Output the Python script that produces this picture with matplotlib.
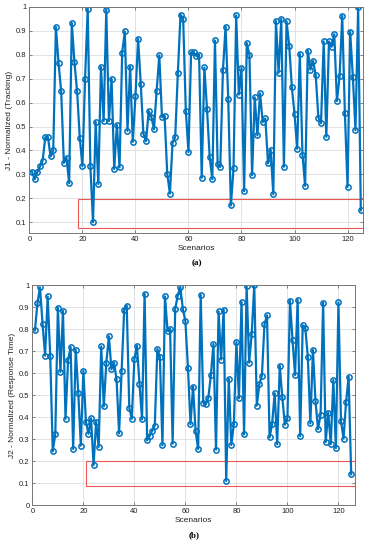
import numpy as np
import matplotlib.pyplot as plt
from matplotlib.patches import Rectangle

# J1 - normalized tracking, scenarios 1..125
j1 = [0.31, 0.28, 0.31, 0.333, 0.358, 0.455, 0.455, 0.375, 0.40, 0.916,
      0.766, 0.647, 0.348, 0.37, 0.263, 0.933, 0.768, 0.647, 0.454, 0.334,
      0.70, 0.993, 0.337, 0.10, 0.519, 0.26, 0.749, 0.523, 0.989, 0.523,
      0.699, 0.323, 0.507, 0.33, 0.809, 0.898, 0.482, 0.75, 0.436, 0.626,
      0.867, 0.68, 0.47, 0.439, 0.565, 0.541, 0.489, 0.65, 0.798, 0.541,
      0.545, 0.302, 0.22, 0.433, 0.456, 0.725, 0.968, 0.95, 0.567, 0.393,
      0.81, 0.81, 0.795, 0.80, 0.286, 0.747, 0.573, 0.372, 0.28, 0.86,
      0.342, 0.332, 0.735, 0.918, 0.615, 0.17, 0.325, 0.965, 0.634, 0.746,
      0.23, 0.849, 0.80, 0.297, 0.622, 0.463, 0.639, 0.519, 0.534, 0.346,
      0.404, 0.217, 0.941, 0.725, 0.951, 0.332, 0.94, 0.838, 0.664, 0.553,
      0.407, 0.805, 0.383, 0.252, 0.817, 0.738, 0.775, 0.715, 0.537, 0.514,
      0.856, 0.457, 0.856, 0.834, 0.886, 0.607, 0.71, 0.964, 0.556, 0.248,
      0.897, 0.708, 0.485, 1.0, 0.15]

# J2 - normalized response time
j2 = [0.794, 0.918, 0.989, 0.824, 0.679, 0.948, 0.679, 0.244, 0.324, 0.897,
      0.605, 0.882, 0.392, 0.658, 0.718, 0.255, 0.705, 0.511, 0.27, 0.61,
      0.379, 0.324, 0.394, 0.182, 0.379, 0.264, 0.721, 0.448, 0.647, 0.767,
      0.617, 0.647, 0.573, 0.326, 0.609, 0.888, 0.906, 0.441, 0.392, 0.665,
      0.724, 0.552, 0.389, 0.961, 0.294, 0.314, 0.338, 0.361, 0.709, 0.674,
      0.271, 0.948, 0.792, 0.80, 0.279, 0.892, 0.952, 0.991, 0.891, 0.835,
      0.624, 0.367, 0.538, 0.335, 0.255, 0.955, 0.465, 0.458, 0.488, 0.591,
      0.732, 0.252, 0.88, 0.661, 0.888, 0.11, 0.574, 0.273, 0.367, 0.741,
      0.485, 0.923, 0.321, 0.994, 0.647, 0.777, 0.999, 0.452, 0.55, 0.588,
      0.821, 0.862, 0.307, 0.368, 0.508, 0.276, 0.633, 0.489, 0.365, 0.394,
      0.929, 0.75, 0.591, 0.933, 0.313, 0.817, 0.806, 0.673, 0.371, 0.705,
      0.473, 0.345, 0.41, 0.92, 0.286, 0.42, 0.277, 0.568, 0.259, 0.921,
      0.383, 0.302, 0.468, 0.583, 0.14]

scen = np.arange(1, len(j1) + 1)

plt.rcParams['font.family'] = ['Liberation Sans', 'DejaVu Sans']
blue = '#0072BD'

fig = plt.figure(figsize=(3.72, 5.5), dpi=100)
ax1 = fig.add_axes([0.079, 0.5764, 0.898, 0.4109])
ax2 = fig.add_axes([0.087, 0.0818, 0.868, 0.400])


def style(ax):
    ax.grid(True, color='#dddddd', lw=0.6)
    ax.set_axisbelow(True)
    ax.tick_params(direction='in', length=2, width=0.5, labelsize=5.5,
                   colors='#555555', labelcolor='#222222', pad=2,
                   top=True, right=True)
    for s in ax.spines.values():
        s.set_color('#777777')
        s.set_linewidth(0.7)
    ax.set_xticks(range(0, 121, 20))
    ax.set_xlabel('Scenarios', fontsize=6, labelpad=1.5, color='#222222')


ax1.plot(scen, j1, '-o', color=blue, lw=1.6, ms=3.8, mfc='none', mew=1.1)
ax1.set_xlim(0, 126)
ax1.set_ylim(0.055, 1.0)
ax1.set_yticks(np.arange(0.1, 1.01, 0.1))
ax1.set_yticklabels(['0.1', '0.2', '0.3', '0.4', '0.5', '0.6', '0.7', '0.8', '0.9', '1'])
style(ax1)
ax1.set_ylabel('J1 - Normalized (Tracking)', fontsize=6, labelpad=2, color='#222222')
ax1.add_patch(Rectangle((18.5, 0.075), 107.7, 0.12, fill=False,
                        ec='#ee5555', lw=0.8))

ax2.plot(scen, j2, '-o', color=blue, lw=1.6, ms=3.8, mfc='none', mew=1.1)
ax2.set_xlim(0, 126.6)
ax2.set_ylim(0, 1.0)
ax2.set_yticks(np.arange(0, 1.01, 0.1))
ax2.set_yticklabels(['0', '0.1', '0.2', '0.3', '0.4', '0.5', '0.6', '0.7', '0.8', '0.9', '1'])
style(ax2)
ax2.set_ylabel('J2 - Normalized (Response Time)', fontsize=6, labelpad=2, color='#222222')
ax2.add_patch(Rectangle((21.2, 0.086), 105.4, 0.114, fill=False,
                        ec='#ee5555', lw=0.8))

fig.text(0.5 * (0.079 + 0.977), 1 - 263 / 550, '(a)', ha='center', va='center',
         fontsize=6.5, fontweight='bold', family='Liberation Serif')
fig.text(0.5 * (0.087 + 0.955), 1 - 535 / 550, '(b)', ha='center', va='center',
         fontsize=6.5, fontweight='bold', family='Liberation Serif')

fig.savefig('out.png', dpi=100)
